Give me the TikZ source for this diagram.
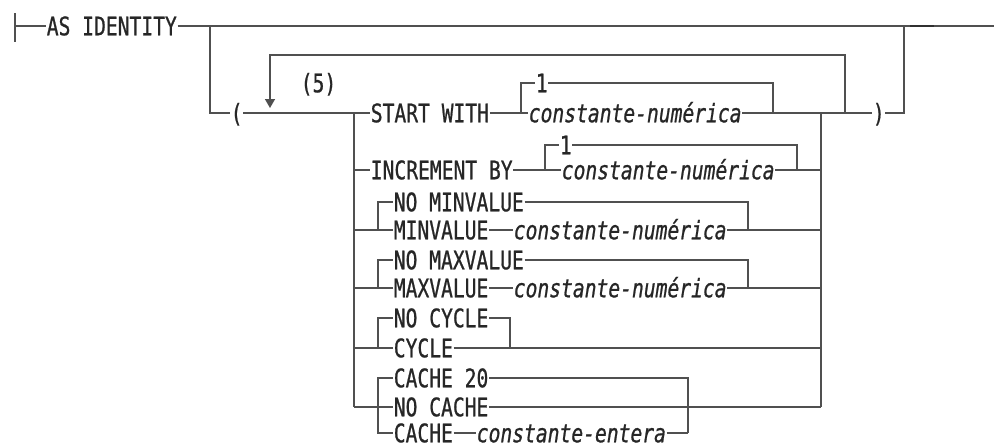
\documentclass[tikz,border=0pt]{standalone}
\usepackage{fontspec}
\newfontfamily\rrfont[FakeStretch=0.77,FakeBold=0.8]{DejaVu Sans Mono}
\usepackage{xcolor}
\definecolor{rrline}{HTML}{505050}
\definecolor{rrtext}{HTML}{262626}
\usepackage{tikz}
\usetikzlibrary{arrows.meta,positioning,calc}
\newcommand\rrsize{\fontsize{25.5pt}{28pt}\selectfont}
\tikzset{
  rr/.style={draw=rrline,line width=1.4pt},
  kw/.style={anchor=west,inner xsep=0.6pt,inner ysep=0pt,text height=18.5pt,
             text depth=0pt,text=rrtext,font=\rrfont\rrsize},
  var/.style={kw,font=\rrfont\rrsize\itshape}
}

\begin{document}
\begin{tikzpicture}[x=1pt,y=-1pt]
  \useasboundingbox (0,0) rectangle (994,445);
  % main line
  \coordinate (begin) at (15,26);
  \coordinate (end) at (994,26);
  \node[kw] (as) at (46,26) {AS IDENTITY};
  \draw[rr] (begin) ++(0,-13) -- ++(0,29);
  \draw[rr] (begin) -- (as);
  \draw[rr] (as) -- (end);
  \draw[draw=rrline!60!black,line width=2.6pt] (910,26) -- (934,26);
  % optional group
  \coordinate (br) at (210,26);
  \coordinate (join) at (904,26);
  \node[kw] (lp) at (230,113) {(};
  \node[kw] (rp) at (872,113) {)};
  \draw[rr] (br) |- (lp);
  \draw[rr] (rp) -| (join);
  % repeat loop
  \coordinate (loopR) at (845,113);
  \coordinate (loopL) at (270,108);
  \draw[rr,-{Triangle[length=9pt,width=10pt]}] (loopR) |- (270,55) -- (loopL);
  \node[kw] (five) at (300,83) {(5)};
  % choice columns
  \coordinate (chtop) at (354,113);
  \coordinate (chbot) at (354,407);
  \coordinate (rtop) at (821,113);
  \coordinate (rbot) at (821,407);
  \draw[rr] (chtop) -- (chbot);
  \draw[rr] (rtop) -- (rbot);
  % START WITH
  \node[kw] (start) at (370,113) {START WITH};
  \node[kw] (one1) at (535,83) {1};
  \node[var] (cn1) at (528,113) {constante-numérica};
  \coordinate (s1) at (521,113);
  \coordinate (s2) at (773,113);
  \draw[rr] (lp) -- (start);
  \draw[rr] (start) -- (cn1);
  \draw[rr] (s1) |- (one1);
  \draw[rr] (one1) -| (s2);
  \draw[rr] (cn1) -- (rp);
  % INCREMENT BY
  \node[kw] (incr) at (370,170) {INCREMENT BY};
  \node[kw] (one2) at (559,145) {1};
  \node[var] (cn2) at (561,170) {constante-numérica};
  \coordinate (i1) at (545,170);
  \coordinate (i2) at (797,170);
  \draw[rr] (chtop |- incr) -- (incr);
  \draw[rr] (incr) -- (cn2);
  \draw[rr] (i1) |- (one2);
  \draw[rr] (one2) -| (i2);
  \draw[rr] (cn2) -- (rtop |- cn2);
  % MINVALUE
  \node[kw] (nomin) at (393,202) {NO MINVALUE};
  \node[kw] (min) at (393,230) {MINVALUE};
  \node[var] (cn3) at (513,230) {constante-numérica};
  \coordinate (mj) at (748,230);
  \draw[rr] (chtop |- min) -- (min);
  \draw[rr] (min.west) -- ++(-15,0) |- (nomin);
  \draw[rr] (nomin) -| (mj);
  \draw[rr] (min) -- (cn3);
  \draw[rr] (cn3) -- (rtop |- cn3);
  % MAXVALUE
  \node[kw] (nomax) at (393,260) {NO MAXVALUE};
  \node[kw] (max) at (393,288) {MAXVALUE};
  \node[var] (cn4) at (513,288) {constante-numérica};
  \coordinate (xj) at (748,288);
  \draw[rr] (chtop |- max) -- (max);
  \draw[rr] (max.west) -- ++(-15,0) |- (nomax);
  \draw[rr] (nomax) -| (xj);
  \draw[rr] (max) -- (cn4);
  \draw[rr] (cn4) -- (rtop |- cn4);
  % CYCLE
  \node[kw] (nocyc) at (393,318) {NO CYCLE};
  \node[kw] (cyc) at (393,348) {CYCLE};
  \coordinate (cj) at (510,348);
  \draw[rr] (chtop |- cyc) -- (cyc);
  \draw[rr] (cyc.west) -- ++(-15,0) |- (nocyc);
  \draw[rr] (nocyc) -| (cj);
  \draw[rr] (cyc) -- (rtop |- cyc);
  % CACHE
  \node[kw] (c20) at (393,378) {CACHE 20};
  \node[kw] (nocache) at (393,407) {NO CACHE};
  \node[kw] (cache) at (393,433) {CACHE};
  \node[var] (ce) at (476,433) {constante-entera};
  \coordinate (kj) at (688,433);
  \draw[rr] (chbot) -- (nocache);
  \draw[rr] (c20.west) -- ++(-15,0) |- (cache);
  \draw[rr] (c20) -| (kj);
  \draw[rr] (cache) -- (ce);
  \draw[rr] (ce) -- (kj);
  \draw[rr] (nocache) -- (rbot);
\end{tikzpicture}
\end{document}
